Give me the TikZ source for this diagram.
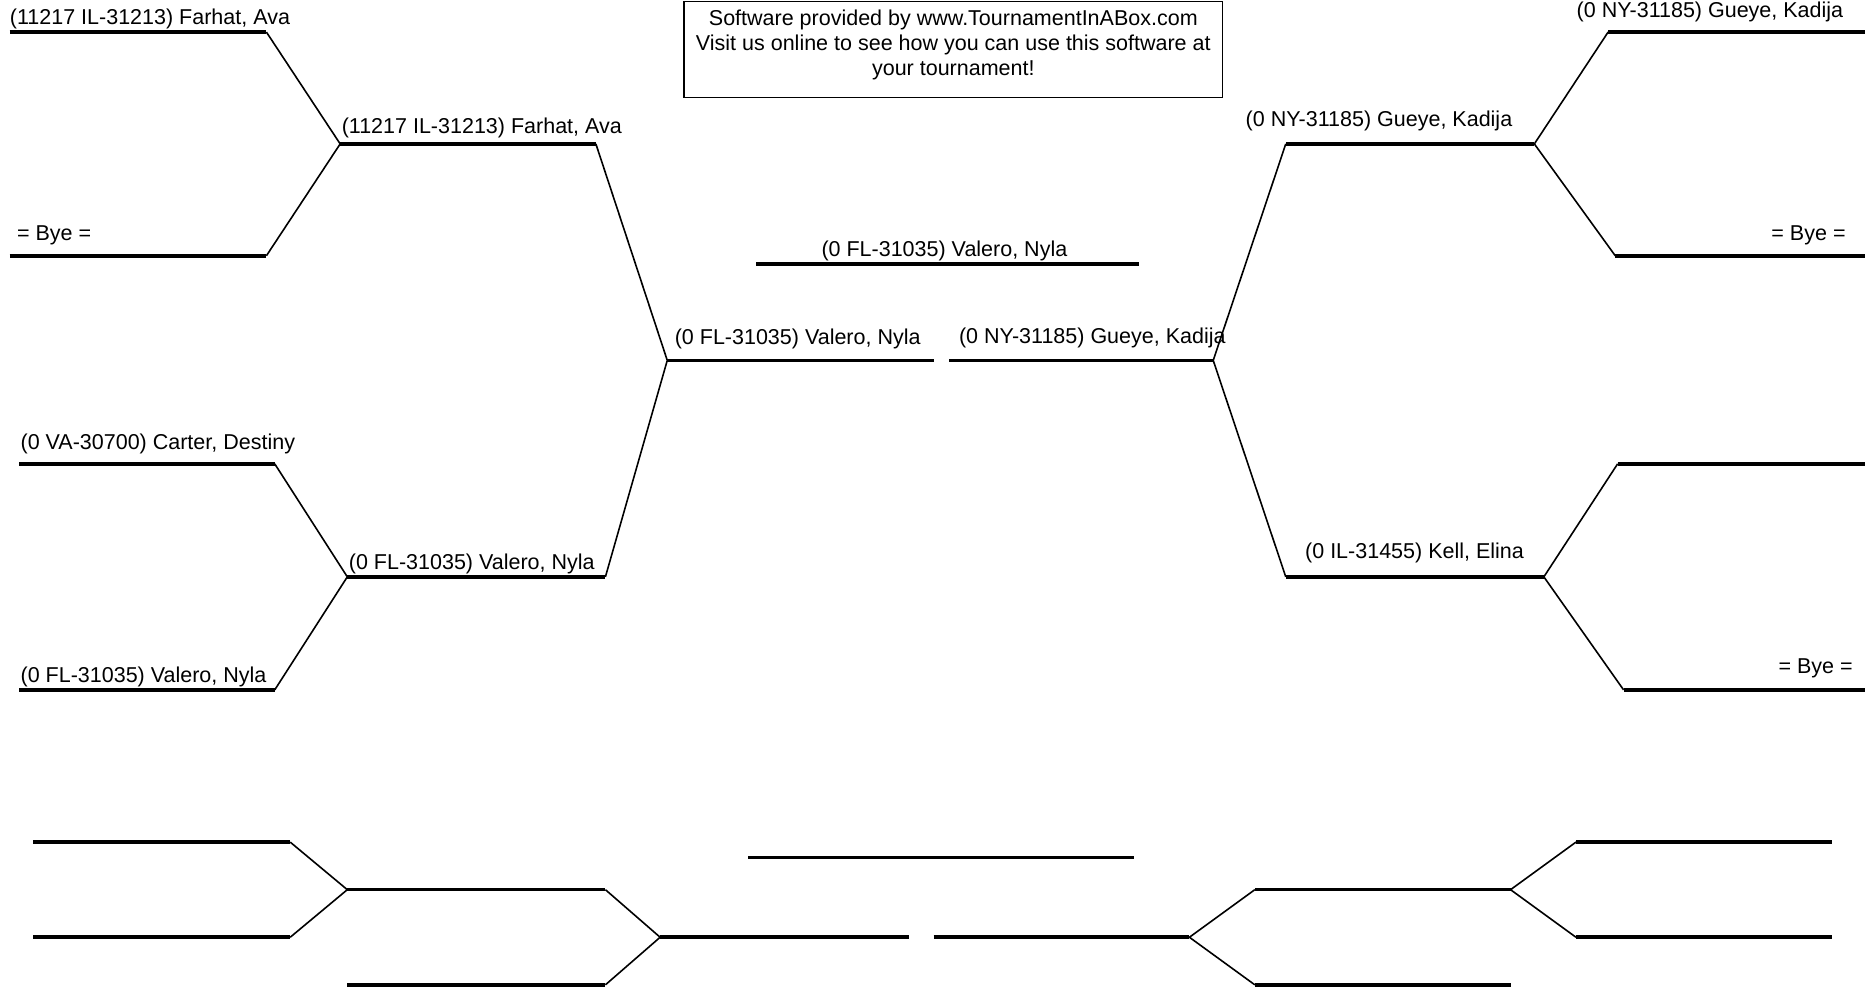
\documentclass[tikz,border=0pt]{standalone}
\usepackage{fontspec}
\setmainfont{Liberation Sans}
\usetikzlibrary{positioning}

\begin{document}
\begin{tikzpicture}[
  x=0.5947pt, y=-0.5947pt,
  slot/.style={line width=1.8pt},
  link/.style={line width=0.8pt},
  pname/.style={font=\fontsize{10.75}{12.5}\selectfont, inner sep=0pt, anchor=base west},
  rpname/.style={pname, anchor=base east},
  promo/.style={draw, line width=0.6pt, inner sep=0pt,
                minimum width=269.4pt, minimum height=48.2pt},
  promotext/.style={align=center, inner sep=0pt,
                font=\fontsize{10.75}{12.5}\selectfont}
]
\useasboundingbox (0,0) rectangle (1568,830);

% Fixed coordinates for every slot
% (top half = filled bracket, bottom half = blank bracket).
\coordinate (l1a) at (8,27);     \coordinate (l1b) at (224,27);
\coordinate (l2a) at (8,215);    \coordinate (l2b) at (224,215);
\coordinate (l3a) at (16,390);   \coordinate (l3b) at (231,390);
\coordinate (l4a) at (16,580);   \coordinate (l4b) at (231,580);
\coordinate (m1a) at (286,121);  \coordinate (m1b) at (501,121);
\coordinate (m2a) at (292,485);  \coordinate (m2b) at (509,485);
\coordinate (sla) at (561,303);  \coordinate (slb) at (785,303);
\coordinate (sra) at (798,303);  \coordinate (srb) at (1020,303);
\coordinate (cha) at (636,222);  \coordinate (chb) at (958,222);
\coordinate (n1a) at (1081,121); \coordinate (n1b) at (1290,121);
\coordinate (n2a) at (1081,485); \coordinate (n2b) at (1298,485);
\coordinate (r1a) at (1352,27);  \coordinate (r1b) at (1570,27);
\coordinate (r2a) at (1358,215); \coordinate (r2b) at (1570,215);
\coordinate (r3a) at (1360,390); \coordinate (r3b) at (1570,390);
\coordinate (r4a) at (1365,580); \coordinate (r4b) at (1570,580);

\node[promo] (promo) at (801.5,41.5) {};
\node[promotext] (promotxt) at (801.5,37.5) {Software provided by www.TournamentInABox.com\\
  Visit us online to see how you can use this software at\\your tournament!};

% slots
\foreach \s in {l1,l2,l3,l4,m1,m2,sl,sr,ch,n1,n2,r1,r2,r3,r4}
  \draw[slot] (\s a) -- (\s b);

% links between rounds
\draw[link] (l1b) -- (m1a) -- (l2b);
\draw[link] (l3b) -- (m2a) -- (l4b);
\draw[link] (m1b) -- (sla) -- (m2b);
\draw[link] (n1a) -- (srb) -- (n2a);
\draw[link] (r1a) -- (n1b) -- (r2a);
\draw[link] (r3a) -- (n2b) -- (r4a);

% names
\node[pname] (p1) at (8,20.5) {(11217 IL-31213) Farhat, Ava};
\node[pname] (p2) at (14,202) {= Bye =};
\node[pname] (p3) at (17,377.5) {(0 VA-30700) Carter, Destiny};
\node[pname] (p4) at (17,573.5) {(0 FL-31035) Valero, Nyla};
\node[pname] (w1) at (287,112.5) {(11217 IL-31213) Farhat, Ava};
\node[pname] (w2) at (293,478.5) {(0 FL-31035) Valero, Nyla};
\node[pname] (wsl) at (567,289.5) {(0 FL-31035) Valero, Nyla};
\node[pname] (wsr) at (806,288.5) {(0 NY-31185) Gueye, Kadija};
\node[pname, anchor=base] (champ) at (794,215.5) {(0 FL-31035) Valero, Nyla};
\node[pname] (w3) at (1047,106.5) {(0 NY-31185) Gueye, Kadija};
\node[pname] (w4) at (1097,469.5) {(0 IL-31455) Kell, Elina};
\node[rpname] (q1) at (1550,14.5) {(0 NY-31185) Gueye, Kadija};
\node[rpname] (q2) at (1552,202) {= Bye =};
\node[rpname] (q4) at (1558,566.5) {= Bye =};

% blank bracket underneath
\coordinate (b1a) at (28,708);   \coordinate (b1b) at (244,708);
\coordinate (b2a) at (28,788);   \coordinate (b2b) at (244,788);
\coordinate (b3a) at (292,748);  \coordinate (b3b) at (509,748);
\coordinate (b4a) at (292,828);  \coordinate (b4b) at (509,828);
\coordinate (b5a) at (555,788);  \coordinate (b5b) at (764,788);
\coordinate (b6a) at (629,721);  \coordinate (b6b) at (953,721);
\coordinate (b7a) at (785,788);  \coordinate (b7b) at (1000,788);
\coordinate (b8a) at (1055,748); \coordinate (b8b) at (1270,748);
\coordinate (b9a) at (1055,828); \coordinate (b9b) at (1270,828);
\coordinate (bAa) at (1325,708); \coordinate (bAb) at (1540,708);
\coordinate (bBa) at (1325,788); \coordinate (bBb) at (1540,788);

\foreach \s in {b1,b2,b3,b4,b5,b6,b7,b8,b9,bA,bB}
  \draw[slot] (\s a) -- (\s b);

\draw[link] (b1b) -- (b3a) -- (b2b);
\draw[link] (b3b) -- (b5a) -- (b4b);
\draw[link] (b8a) -- (b7b) -- (b9a);
\draw[link] (bAa) -- (b8b) -- (bBa);
\end{tikzpicture}
\end{document}
